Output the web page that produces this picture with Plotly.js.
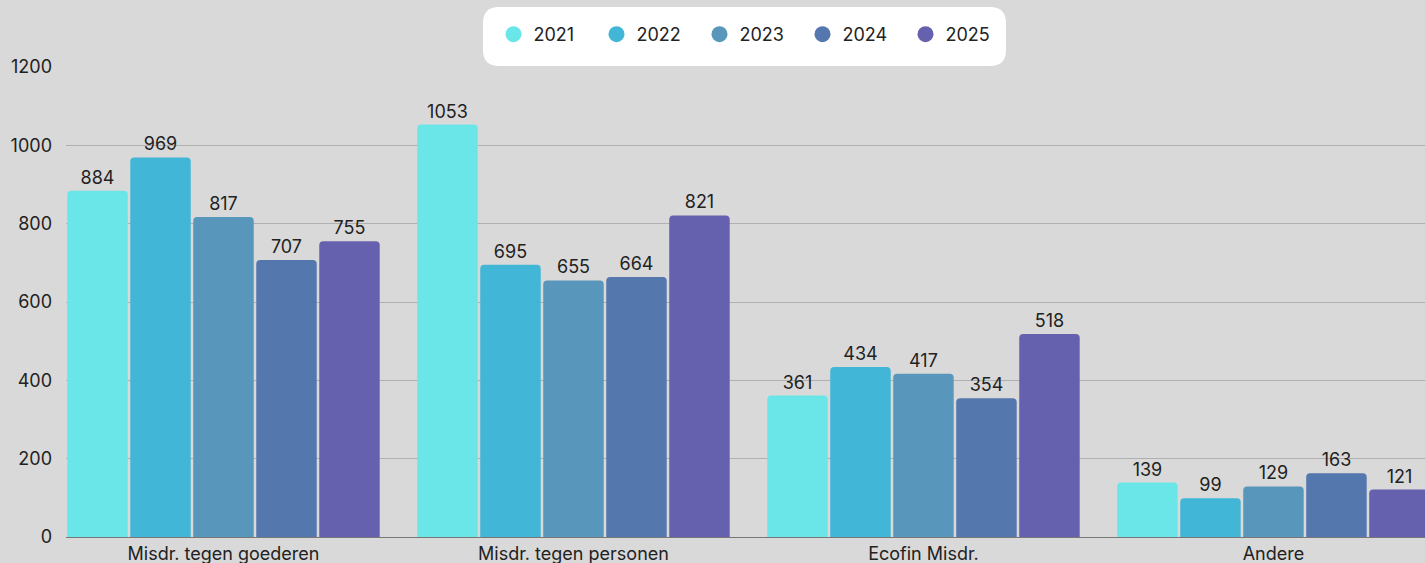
<!DOCTYPE html>
<html><head><meta charset="utf-8">
<script src="https://cdn.plot.ly/plotly-3.0.1.min.js"></script>
<style>html,body{margin:0;padding:0;background:#d9d9d9;}#chart{width:1425px;height:563px;}</style>
</head><body><div id="chart"></div>
<script>
const categories = ["Misdr. tegen goederen", "Misdr. tegen personen", "Ecofin Misdr.", "Andere"];
const years = ["2021", "2022", "2023", "2024", "2025"];
const v2021 = [884, 1053, 361, 139];
const v2022 = [969, 695, 434, 99];
const v2023 = [817, 655, 417, 129];
const v2024 = [707, 664, 354, 163];
const v2025 = [755, 821, 518, 121];
const seriesValues = [v2021, v2022, v2023, v2024, v2025];
const colors = ["#6ae6e8", "#42b6d6", "#5896bb", "#5477ae", "#6661ae"];
const FONT = "Inter, 'Open Sans', sans-serif";
const FS = 18;

const traces = [];
years.forEach((y, i) => {
  traces.push({
    type: "bar", x: categories, y: seriesValues[i], name: y,
    marker: {color: colors[i], cornerradius: 4},
    text: seriesValues[i].map(String), textposition: "outside",
    textfont: {family: FONT, size: FS, color: "#222"},
    cliponaxis: false, showlegend: false, hoverinfo: "y"
  });
});
years.forEach((y, i) => {
  traces.push({
    type: "scatter", mode: "markers", x: [null], y: [null], name: y,
    marker: {color: colors[i], size: 18, symbol: "circle"},
    showlegend: true, hoverinfo: "skip"
  });
});

const W = 1359, H = 470;
const bw = 523, bh = 59, r = 16;
const hw = bw/2, hh = bh/2;
const boxPath = `M ${-hw+r},${-hh} L ${hw-r},${-hh} Q ${hw},${-hh} ${hw},${-hh+r} L ${hw},${hh-r} Q ${hw},${hh} ${hw-r},${hh} L ${-hw+r},${hh} Q ${-hw},${hh} ${-hw},${hh-r} L ${-hw},${-hh+r} Q ${-hw},${-hh} ${-hw+r},${-hh} Z`;
const cx = (744.5-66)/W, cy = (537-36.5)/H;
const lx = (751-66)/W, ly = (537-34.5)/H;

const layout = {
  width: 1425, height: 563,
  paper_bgcolor: "#d9d9d9", plot_bgcolor: "#d9d9d9",
  margin: {l: 66, r: 0, t: 67, b: 26},
  font: {family: FONT, size: FS, color: "#222"},
  barmode: "group", bargap: 0.1, bargroupgap: 0.04,
  xaxis: {type: "category", range: [-0.45, 3.433], showgrid: false, ticks: "",
    showline: true, linecolor: "#777", linewidth: 1,
    tickfont: {family: FONT, size: FS, color: "#222"}, fixedrange: true},
  yaxis: {range: [0, 1200], tickvals: [0, 200, 400, 600, 800, 1000, 1200],
    showgrid: true, gridcolor: "#b0b0b0", gridwidth: 1, zeroline: false,
    tickfont: {family: FONT, size: FS, color: "#222"}, ticklabelstandoff: 13},
  showlegend: true,
  legend: {orientation: "h", x: lx, xanchor: "center", y: ly, yanchor: "middle",
    entrywidth: 58, entrywidthmode: "pixels",
    bgcolor: "rgba(0,0,0,0)", font: {family: FONT, size: FS, color: "#222"},
    itemclick: false, itemdoubleclick: false},
  shapes: [{type: "path", xref: "paper", yref: "paper", xsizemode: "pixel", ysizemode: "pixel",
    xanchor: cx, yanchor: cy, path: boxPath, fillcolor: "#ffffff", line: {width: 0}, layer: "above"}]
};
Plotly.newPlot("chart", traces, layout, {displayModeBar: false, staticPlot: true});
</script></body></html>
